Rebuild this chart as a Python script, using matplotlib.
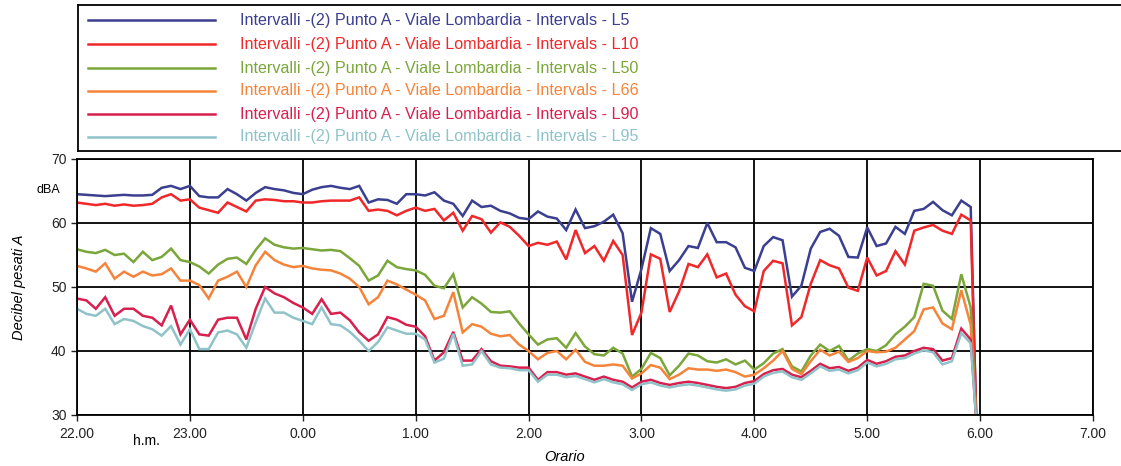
import numpy as np
import matplotlib.pyplot as plt
from matplotlib.lines import Line2D

# 5-minute interval levels, 22.00 -> 5.55, plus the closing sample
l5 = [64.5, 64.4, 64.3, 64.2, 64.3, 64.4, 64.3, 64.3, 64.4, 65.5, 65.8, 65.3,
      65.8, 64.2, 64.0, 64.0, 65.3, 64.5, 63.5, 64.7, 65.6, 65.3, 65.1, 64.7,
      64.5, 65.2, 65.6, 65.8, 65.5, 65.3, 65.8, 63.2, 63.7, 63.6, 63.0, 64.5,
      64.5, 64.3, 64.8, 63.5, 63.0, 61.1, 63.5, 62.5, 62.7, 61.9, 61.5, 60.8,
      60.6, 61.8, 61.0, 60.7, 58.9, 62.1, 59.2, 59.5, 60.2, 61.3, 58.4, 47.7,
      52.8, 59.2, 58.3, 52.5, 54.2, 56.4, 56.1, 60.0, 57.0, 57.0, 56.2, 53.0,
      52.5, 56.4, 57.8, 57.3, 48.5, 50.2, 56.0, 58.6, 59.1, 58.0, 54.7, 54.6,
      59.3, 56.4, 56.8, 59.4, 58.3, 61.9, 62.2, 63.3, 62.0, 61.2, 63.5, 62.5,
      29.0]
l10 = [63.2, 63.0, 62.8, 63.0, 62.7, 62.9, 62.7, 62.8, 63.0, 64.0, 64.5, 63.5,
       63.7, 62.4, 62.0, 61.6, 63.2, 62.5, 61.8, 63.5, 63.7, 63.6, 63.4, 63.4,
       63.2, 63.2, 63.4, 63.5, 63.5, 63.5, 64.0, 61.9, 62.1, 61.9, 61.2, 61.9,
       62.4, 61.9, 62.2, 60.4, 61.6, 58.8, 61.1, 60.6, 58.5, 60.1, 59.4, 58.0,
       56.4, 56.9, 56.6, 57.1, 54.3, 58.9, 55.3, 56.4, 54.1, 57.2, 55.0, 42.5,
       46.0, 55.1, 54.4, 46.1, 49.3, 53.6, 53.1, 55.1, 51.5, 52.1, 48.8, 47.0,
       46.2, 52.5, 54.1, 53.7, 44.0, 45.3, 50.5, 54.2, 53.4, 52.9, 49.9, 49.4,
       54.6, 51.8, 52.5, 55.6, 53.5, 58.8, 59.3, 59.7, 58.8, 58.3, 61.3, 60.4,
       29.0]
l50 = [55.9, 55.5, 55.3, 55.8, 55.0, 55.2, 53.9, 55.5, 54.2, 54.7, 56.0, 54.2,
       53.9, 53.2, 52.1, 53.5, 54.4, 54.6, 53.6, 55.8, 57.6, 56.6, 56.2, 56.0,
       56.1, 55.9, 55.7, 55.8, 55.6, 54.5, 53.3, 51.0, 51.8, 54.1, 53.1, 52.8,
       52.6, 51.9, 50.2, 49.8, 52.0, 46.8, 48.4, 47.4, 46.1, 46.0, 46.2, 44.3,
       42.6, 41.0, 41.8, 42.0, 40.5, 42.8, 40.7, 39.5, 39.3, 40.5, 39.6, 36.0,
       37.2, 39.7, 38.9, 36.2, 37.7, 39.6, 39.3, 38.4, 38.2, 38.7, 37.9, 38.5,
       37.1, 38.1, 39.6, 40.3, 37.6, 36.8, 39.3, 41.0, 40.0, 40.8, 38.5, 39.6,
       40.3, 40.0, 40.9, 42.6, 43.8, 45.3, 50.5, 50.2, 46.3, 45.0, 52.0, 46.8,
       29.0]
l66 = [53.3, 52.9, 52.4, 53.7, 51.3, 52.4, 51.6, 52.4, 51.8, 52.0, 52.9, 51.0,
       51.0, 50.3, 48.2, 51.0, 51.6, 52.4, 50.0, 53.4, 55.5, 54.2, 53.5, 53.1,
       53.3, 52.9, 52.7, 52.6, 52.1, 51.3, 50.0, 47.3, 48.4, 51.0, 50.4, 49.6,
       48.8, 47.9, 45.0, 45.5, 49.2, 42.9, 44.2, 43.8, 42.7, 42.3, 42.5, 41.0,
       40.0, 38.7, 39.7, 40.0, 38.7, 40.2, 38.3, 37.7, 37.7, 37.9, 37.7, 35.7,
       36.5, 37.8, 37.4, 35.6, 36.3, 37.3, 37.1, 37.1, 36.9, 37.1, 36.7, 36.0,
       36.3, 37.3, 38.5, 40.0, 37.2, 36.4, 38.4, 40.2, 39.3, 39.9, 38.3, 38.9,
       40.0, 39.8, 39.9, 40.5, 41.8, 43.1, 46.5, 46.8, 44.3, 43.4, 49.5, 44.1,
       29.0]
l90 = [48.2, 47.9, 46.6, 48.4, 45.5, 46.6, 46.6, 45.5, 45.2, 44.0, 47.1, 42.6,
       44.9, 42.6, 42.4, 44.9, 45.2, 45.2, 41.8, 46.6, 50.0, 49.0, 48.4, 47.5,
       46.8, 45.8, 48.1, 45.8, 46.0, 44.8, 42.9, 41.6, 42.6, 45.3, 44.9, 44.1,
       43.8, 42.3, 38.5, 39.8, 43.0, 38.5, 38.5, 40.3, 38.4, 37.7, 37.6, 37.4,
       37.4, 35.5, 36.7, 36.7, 36.3, 36.5, 36.0, 35.5, 36.0, 35.5, 35.2, 34.3,
       35.2, 35.5, 35.0, 34.7, 35.0, 35.2, 35.0, 34.7, 34.4, 34.2, 34.4, 35.0,
       35.3, 36.4, 37.0, 37.2, 36.3, 35.9, 36.9, 38.0, 37.3, 37.5, 36.9, 37.4,
       38.6, 38.0, 38.4, 39.1, 39.3, 40.0, 40.5, 40.3, 38.5, 38.9, 43.5, 41.8,
       29.0]
l95 = [46.6, 45.8, 45.5, 46.6, 44.2, 45.0, 44.7, 43.9, 43.4, 42.4, 43.9, 41.0,
       43.4, 40.3, 40.3, 42.9, 43.2, 42.6, 40.5, 44.5, 48.2, 46.0, 46.0, 45.2,
       44.7, 44.2, 46.8, 44.2, 44.0, 43.0, 41.6, 40.0, 41.4, 43.7, 43.2, 42.7,
       42.7, 41.8, 38.2, 38.8, 42.7, 37.7, 37.9, 40.0, 37.9, 37.4, 37.3, 37.0,
       37.0, 35.2, 36.3, 36.3, 35.9, 36.1, 35.6, 35.1, 35.6, 35.1, 34.8, 33.9,
       34.8, 35.1, 34.6, 34.3, 34.6, 34.8, 34.6, 34.3, 34.0, 33.8, 34.0, 34.6,
       34.9, 36.0, 36.6, 36.8, 35.9, 35.5, 36.5, 37.6, 36.9, 37.1, 36.5, 37.0,
       38.2, 37.6, 38.0, 38.7, 38.9, 39.6, 40.1, 39.8, 37.9, 38.4, 42.8, 41.2,
       29.0]

# hours since midnight of the first day, 22.00 = 22
t = 22 + np.arange(96) * 5 / 60
t = np.append(t, 22 + 7 + 58 / 60)

hour_ticks = np.arange(22, 32)
hour_labels = ["22.00", "23.00", "0.00", "1.00", "2.00", "3.00",
               "4.00", "5.00", "6.00", "7.00"]

series = [
    ("L5", l5, "#3b3f8f"),
    ("L10", l10, "#f0282a"),
    ("L50", l50, "#7aa63a"),
    ("L66", l66, "#f5843a"),
    ("L90", l90, "#d8204e"),
    ("L95", l95, "#8fc3c9"),
]

plt.rcParams['font.family'] = ['Liberation Sans', 'DejaVu Sans']

fig = plt.figure(figsize=(11.21, 4.66), dpi=100)
ax = fig.add_axes([77 / 1121, 51 / 466, 1016 / 1121, 256 / 466])

for name, vals, col in series:
    ax.plot(t, vals, color=col, lw=1.8, solid_joinstyle='miter')

ax.set_xlim(22, 31)
ax.set_ylim(30, 70)
ax.set_xticks(hour_ticks)
ax.set_xticklabels(hour_labels)
ax.set_yticks([30, 40, 50, 60, 70])
ax.tick_params(direction='out', length=4, width=1, labelsize=10, colors='#222222')
ax.tick_params(axis='x', pad=5)
ax.grid(True, color='black', lw=1.3)
for sp in ax.spines.values():
    sp.set_color('black')
    sp.set_linewidth(1.3)

ax.set_ylabel("Decibel pesati A", style='italic', fontsize=10.5, labelpad=18)
ax.set_xlabel("Orario", style='italic', fontsize=10.5, va='center')
ax.xaxis.set_label_coords((565 - 77) / 1016, -0.165)
ax.text(-0.028, 0.88, "dBA", transform=ax.transAxes, fontsize=9,
        ha='center', va='center')
ax.text(0.068, -0.1, "h.m.", transform=ax.transAxes, fontsize=10,
        ha='center', va='center')

# legend block above the plot
leg_ax = fig.add_axes([78 / 1121, 315 / 466, 1043 / 1121, 146 / 466])
leg_ax.set_xlim(0, 1043)
leg_ax.set_ylim(146, 0)
leg_ax.set_xticks([])
leg_ax.set_yticks([])
for sp in leg_ax.spines.values():
    sp.set_color('black')
    sp.set_linewidth(1.3)
leg_ax.spines['right'].set_visible(False)
rows = [15, 39, 63, 86, 109, 132]
for (name, vals, col), y in zip(series, rows):
    leg_ax.add_line(Line2D([10, 137], [y, y], color=col, lw=1.8))
    leg_ax.text(162, y, "Intervalli -(2) Punto A - Viale Lombardia - Intervals - " + name,
                color=col, fontsize=11.6, va='center', ha='left')

fig.savefig("out.png", dpi=100)
